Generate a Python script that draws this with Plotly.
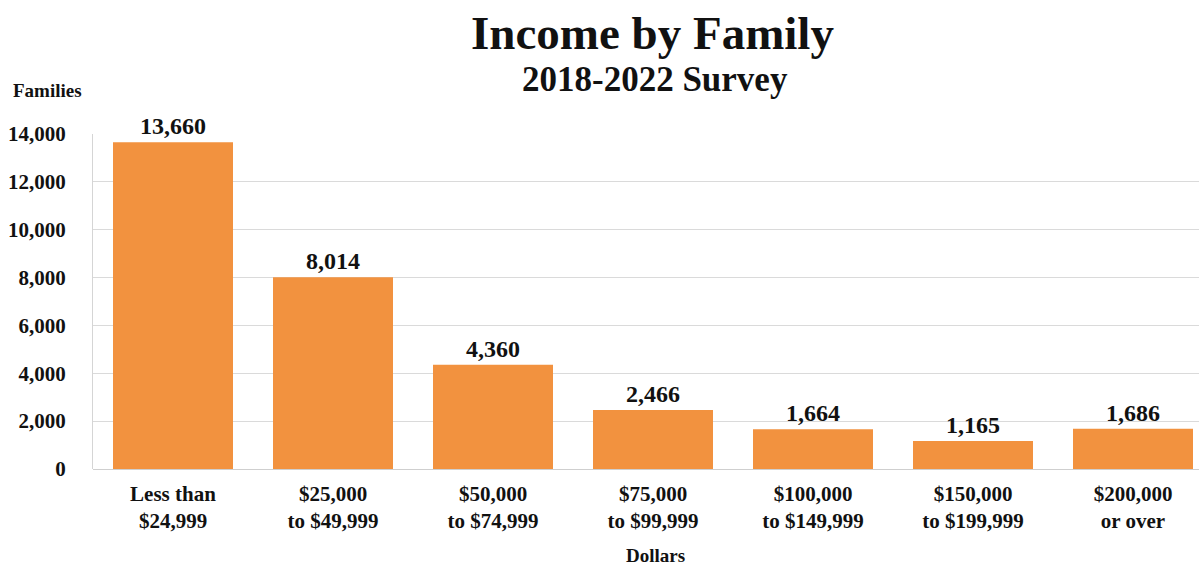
import plotly.graph_objects as go

categories = ["Less than<br>$24,999", "$25,000<br>to $49,999", "$50,000<br>to $74,999",
              "$75,000<br>to $99,999", "$100,000<br>to $149,999", "$150,000<br>to $199,999",
              "$200,000<br>or over"]
families = [13660, 8014, 4360, 2466, 1664, 1165, 1686]
y_ticks = [0, 2000, 4000, 6000, 8000, 10000, 12000, 14000]

SERIF = "Liberation Serif, Times New Roman, serif"
BAR = "#F2923F"
INK = "#111111"

fig = go.Figure(go.Bar(
    x=list(range(len(categories))),
    y=families,
    width=0.75,
    marker=dict(color=BAR, line=dict(width=0)),
    text=[f"<b>{v:,}</b>" for v in families],
    textposition="outside",
    textfont=dict(family=SERIF, size=24, color=INK),
    cliponaxis=False,
))

fig.update_layout(
    width=1199, height=565,
    margin=dict(l=93, r=0, t=134, b=96),
    paper_bgcolor="white", plot_bgcolor="white",
    showlegend=False,
    bargap=0.25,
    xaxis=dict(
        range=[-0.5, 6.4125],
        tickmode="array",
        tickvals=list(range(len(categories))),
        ticktext=[f"<b>{c}</b>" for c in categories],
        tickfont=dict(family=SERIF, size=21, color=INK),
        showgrid=False, zeroline=False, showline=False, ticks="",
        ticklabelstandoff=10,
    ),
    yaxis=dict(
        range=[0, 14000],
        tickmode="array",
        tickvals=y_ticks,
        ticktext=[f"<b>{v:,}</b>" for v in y_ticks],
        tickfont=dict(family=SERIF, size=21, color=INK),
        showgrid=True, gridcolor="#DADADA", gridwidth=1,
        zeroline=True, zerolinecolor="#CFCFCF", zerolinewidth=1,
        showline=True, linecolor="#D5D5D5", linewidth=1,
        ticks="", ticklabelstandoff=22,
    ),
    annotations=[
        dict(text="<b>Income by Family</b>", x=652, y=33, xref="paper", yref="paper",
             showarrow=False, font=dict(family=SERIF, size=47, color=INK)),
        dict(text="<b>2018-2022 Survey</b>", x=655, y=80, xref="paper", yref="paper",
             showarrow=False, font=dict(family=SERIF, size=35, color=INK)),
        dict(text="<b>Families</b>", x=47, y=91, xref="paper", yref="paper",
             showarrow=False, font=dict(family=SERIF, size=19, color=INK)),
        dict(text="<b>Dollars</b>", x=655, y=555, xref="paper", yref="paper",
             showarrow=False, font=dict(family=SERIF, size=19, color=INK)),
    ],
)

# header/footer texts are placed in pixels; convert to paper coordinates
plot_w = 1199 - 93
plot_h = 565 - 134 - 96
for ann in fig.layout.annotations:
    ann.x = (ann.x - 93) / plot_w
    ann.y = (565 - 96 - ann.y) / plot_h
    ann.xanchor = "center"
    ann.yanchor = "middle"

fig.write_html("out.html")
